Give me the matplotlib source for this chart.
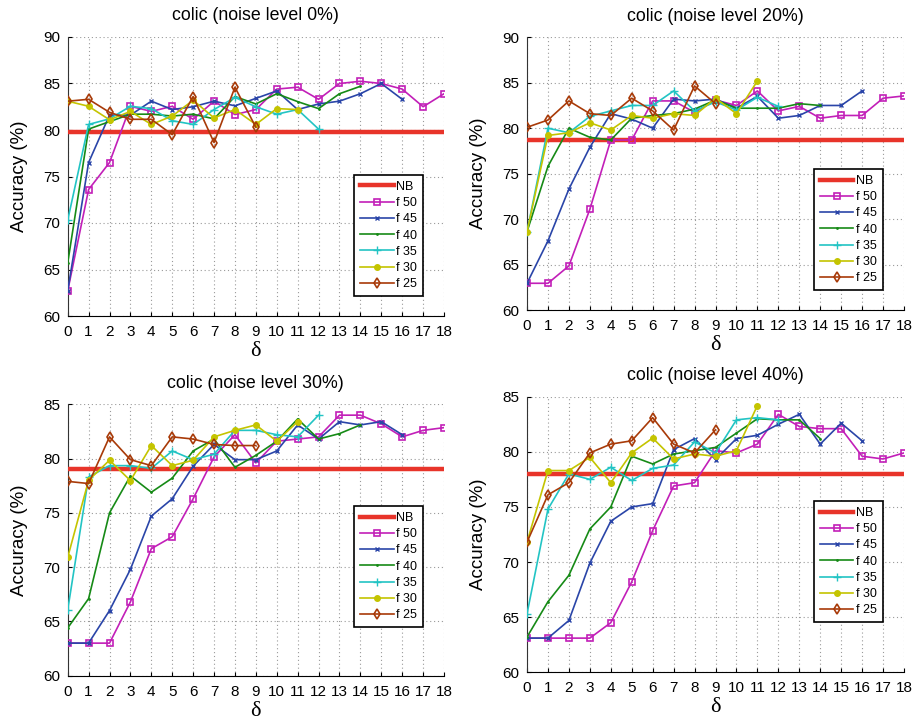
import matplotlib
matplotlib.use("Agg")
import matplotlib.pyplot as plt

plt.rcParams['font.family'] = ['Liberation Sans', 'DejaVu Sans']

titles = ["colic (noise level 0%)", "colic (noise level 20%)",
          "colic (noise level 30%)", "colic (noise level 40%)"]
labels = ["f 50", "f 45", "f 40", "f 35", "f 30", "f 25"]
nb_values = [79.8, 78.7, 79.07, 78.0]

# noise 0%
p0_f50 = [62.7, 73.6, 76.5, 82.55, 82.0, 82.55, 81.15, 83.1, 81.66, 82.2, 84.4, 84.6, 83.3, 85.0, 85.24, 85.0, 84.4, 82.5, 83.9]
p0_f45 = [62.7, 76.5, 81.6, 81.6, 83.1, 82.2, 82.5, 83.1, 82.6, 83.4, 84.2, 82.2, 82.8, 83.1, 83.9, 85.0, 83.3]
p0_f40 = [65.7, 80.1, 80.9, 81.7, 81.7, 81.5, 81.7, 81.2, 83.6, 82.8, 83.9, 83.05, 82.3, 83.9, 84.7]
p0_f35 = [70.3, 80.6, 81.2, 82.55, 82.3, 81.0, 80.6, 82.2, 83.5, 82.5, 81.7, 82.2, 80.1]
p0_f30 = [83.1, 82.55, 81.1, 82.0, 80.6, 81.5, 83.2, 81.3, 82.2, 80.6, 82.3, 82.2]
p0_f25 = [83.1, 83.3, 81.9, 81.15, 81.15, 79.5, 83.6, 78.65, 84.6, 80.3]

# noise 20%
p1_f50 = [62.94, 62.94, 64.85, 71.08, 78.7, 78.7, 83.0, 83.0, 81.75, 83.1, 82.5, 84.1, 81.9, 82.4, 81.1, 81.4, 81.4, 83.3, 83.55]
p1_f45 = [62.94, 67.6, 73.3, 77.9, 81.6, 81.0, 80.0, 83.2, 83.0, 83.2, 82.2, 83.5, 81.1, 81.4, 82.5, 82.5, 84.1]
p1_f40 = [68.6, 75.8, 80.0, 79.0, 78.7, 81.1, 81.4, 81.6, 82.1, 83.1, 82.2, 82.2, 82.2, 82.7, 82.5]
p1_f35 = [68.6, 80.0, 79.5, 81.3, 81.9, 82.5, 82.5, 84.1, 81.9, 82.9, 82.0, 83.4, 82.4]
p1_f30 = [68.6, 79.2, 79.5, 80.6, 79.8, 81.4, 81.1, 81.6, 81.4, 83.3, 81.6, 85.2]
p1_f25 = [80.1, 80.9, 83.0, 81.6, 81.4, 83.3, 81.9, 79.8, 84.65, 82.7]

# noise 30%
p2_f50 = [63.0, 63.0, 63.0, 66.8, 71.7, 72.8, 76.3, 80.15, 82.2, 79.6, 81.6, 81.8, 82.0, 84.0, 84.0, 83.2, 82.0, 82.6, 82.85]
p2_f45 = [63.0, 63.0, 66.0, 69.8, 74.7, 76.3, 79.3, 81.3, 79.9, 79.9, 80.7, 83.1, 81.8, 83.4, 83.1, 83.4, 82.2]
p2_f40 = [64.4, 67.1, 75.0, 78.4, 76.9, 78.2, 80.7, 81.8, 79.2, 80.3, 81.6, 83.65, 81.8, 82.3, 83.1]
p2_f35 = [66.05, 78.3, 79.35, 79.35, 79.1, 80.7, 79.9, 80.4, 82.6, 82.6, 82.2, 82.0, 84.0]
p2_f30 = [70.9, 78.0, 79.85, 77.97, 81.2, 79.35, 79.85, 82.0, 82.6, 83.1, 81.6, 83.4]
p2_f25 = [77.9, 77.7, 82.0, 79.9, 79.35, 82.0, 81.8, 81.3, 81.2, 81.2]

# noise 40%
p3_f50 = [63.1, 63.1, 63.1, 63.1, 64.5, 68.2, 72.85, 76.9, 77.2, 80.1, 79.9, 80.7, 83.4, 82.3, 82.1, 82.1, 79.6, 79.35, 79.9]
p3_f45 = [63.1, 63.1, 64.7, 69.9, 73.7, 75.0, 75.3, 80.2, 81.2, 79.3, 81.2, 81.5, 82.5, 83.4, 80.7, 82.6, 81.0]
p3_f40 = [63.2, 66.4, 68.8, 73.0, 75.0, 79.6, 78.9, 79.8, 80.1, 80.4, 81.7, 83.0, 82.9, 82.9, 81.2]
p3_f35 = [65.3, 74.8, 78.0, 77.5, 78.6, 77.4, 78.5, 78.8, 80.9, 79.9, 82.9, 83.1, 82.9]
p3_f30 = [71.8, 78.3, 78.3, 79.5, 77.2, 79.9, 81.25, 79.35, 79.8, 79.6, 80.1, 84.2]
p3_f25 = [71.8, 76.1, 77.2, 79.9, 80.7, 81.0, 83.1, 80.7, 79.9, 82.0]

panels = [
    [p0_f50, p0_f45, p0_f40, p0_f35, p0_f30, p0_f25],
    [p1_f50, p1_f45, p1_f40, p1_f35, p1_f30, p1_f25],
    [p2_f50, p2_f45, p2_f40, p2_f35, p2_f30, p2_f25],
    [p3_f50, p3_f45, p3_f40, p3_f35, p3_f30, p3_f25],
]
ylims = [(60, 90), (60, 90), (60, 85), (60, 85)]

colors = ["#c21fb8", "#2a45a8", "#168a16", "#22c4c4", "#c4c400", "#a83a08"]
markers = ["s", "x", ".", "+", "o", "d"]
msizes = [4.5, 3.5, 2, 5.5, 4, 5.5]
mfcs = ["none", None, None, None, None, "none"]
nb_color = "#e8342a"

W, H = 916, 724
boxes = [  # left, top, right, bottom in pixels
    (67.7, 37.0, 444.0, 316.0),
    (527.0, 37.3, 904.0, 310.0),
    (67.7, 404.3, 444.0, 675.7),
    (527.0, 396.7, 904.0, 672.3),
]
leg_anchor = [(0.944, 0.072), (0.943, 0.073), (0.944, 0.179), (0.943, 0.1825)]

fig = plt.figure(figsize=(W / 100, H / 100), dpi=100)

for i in range(4):
    l, t, r, b = boxes[i]
    ax = fig.add_axes([l / W, 1 - b / H, (r - l) / W, (b - t) / H])
    ax.axhline(nb_values[i], color=nb_color, lw=3.2, label="NB", zorder=3)
    for j, series in enumerate(panels[i]):
        kw = dict(color=colors[j], marker=markers[j], ms=msizes[j], lw=1.2,
                  label=labels[j], zorder=4)
        if mfcs[j] == "none":
            kw["mfc"] = "none"
            kw["mew"] = 1.2
        ax.plot(range(len(series)), series, **kw)
    ax.set_xlim(0, 18)
    ax.set_ylim(*ylims[i])
    ax.set_xticks(range(19))
    ax.set_yticks(range(ylims[i][0], ylims[i][1] + 1, 5))
    ax.grid(True, linestyle=(0, (1, 2.5)), color="#9a9a9a", lw=0.8)
    ax.spines["top"].set_visible(False)
    ax.spines["right"].set_visible(False)
    ax.spines["left"].set_color("#333333")
    ax.tick_params(direction="in", length=3, labelsize=11)
    ax.tick_params(axis="x", pad=6.5)
    ax.tick_params(axis="y", pad=5.5)
    ax.set_title(titles[i], fontsize=12.8, pad=12)
    ax.set_ylabel("Accuracy (%)", fontsize=13.5, labelpad=11)
    ax.set_xlabel("δ", fontsize=16, labelpad=2,
                  family=["Liberation Serif", "DejaVu Serif"])
    leg = ax.legend(loc="lower right", bbox_to_anchor=leg_anchor[i],
                    fontsize=9, fancybox=False, framealpha=1,
                    edgecolor="black", labelspacing=0.34, handlelength=2.7,
                    handletextpad=0.2, borderpad=0.45, borderaxespad=0)
    leg.get_frame().set_linewidth(1.2)

fig.savefig("out.png", dpi=100)
